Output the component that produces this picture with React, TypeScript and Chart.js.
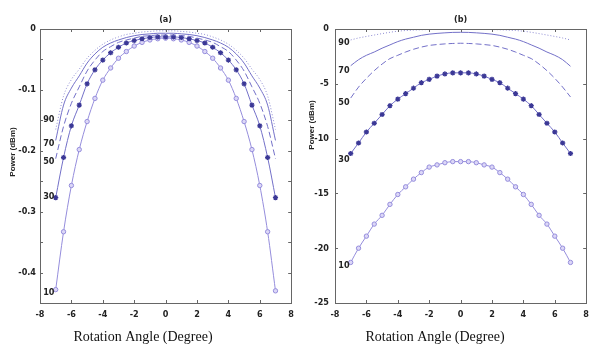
import React, { useEffect, useRef } from "react";
import { Chart, registerables } from "chart.js";

Chart.register(...registerables);

// ---------- data ----------
const angles = [-7, -6.5, -6, -5.5, -5, -4.5, -4, -3.5, -3, -2.5, -2, -1.5, -1, -0.5, 0, 0.5, 1, 1.5, 2, 2.5, 3, 3.5, 4, 4.5, 5, 5.5, 6, 6.5, 7];

const xTicks = [-8, -6, -4, -2, 0, 2, 4, 6, 8];

// panel (a)
const a90 = [-0.165, -0.11, -0.083, -0.066, -0.048, -0.035, -0.025, -0.018, -0.013, -0.009, -0.007, -0.005, -0.004, -0.003, -0.003, -0.003, -0.004, -0.005, -0.007, -0.009, -0.013, -0.018, -0.025, -0.035, -0.048, -0.066, -0.083, -0.11, -0.165];
const a70 = [-0.183, -0.125, -0.097, -0.077, -0.056, -0.041, -0.03, -0.023, -0.018, -0.014, -0.011, -0.009, -0.008, -0.007, -0.007, -0.007, -0.008, -0.009, -0.011, -0.014, -0.018, -0.023, -0.03, -0.041, -0.056, -0.077, -0.097, -0.125, -0.183];
const a50 = [-0.213, -0.16, -0.122, -0.095, -0.069, -0.051, -0.037, -0.029, -0.022, -0.018, -0.015, -0.012, -0.011, -0.01, -0.01, -0.01, -0.011, -0.012, -0.015, -0.018, -0.022, -0.029, -0.037, -0.051, -0.069, -0.095, -0.122, -0.16, -0.213];
const a30 = [-0.277, -0.211, -0.159, -0.125, -0.09, -0.067, -0.051, -0.039, -0.03, -0.023, -0.019, -0.016, -0.014, -0.013, -0.013, -0.013, -0.014, -0.016, -0.019, -0.023, -0.03, -0.039, -0.051, -0.067, -0.09, -0.125, -0.159, -0.211, -0.277];
const a10 = [-0.428, -0.333, -0.257, -0.198, -0.152, -0.114, -0.084, -0.064, -0.048, -0.037, -0.028, -0.022, -0.018, -0.016, -0.015, -0.016, -0.018, -0.022, -0.028, -0.037, -0.048, -0.064, -0.084, -0.114, -0.152, -0.198, -0.257, -0.333, -0.43];

// panel (b)
const b90 = [-1.0, -0.82, -0.68, -0.55, -0.42, -0.3, -0.2, -0.14, -0.1, -0.07, -0.05, -0.04, -0.03, -0.03, -0.03, -0.03, -0.03, -0.04, -0.05, -0.07, -0.1, -0.14, -0.2, -0.3, -0.42, -0.55, -0.68, -0.82, -1.0];
const b70 = [-3.35, -2.8, -2.4, -2.1, -1.75, -1.45, -1.15, -0.92, -0.75, -0.58, -0.47, -0.4, -0.35, -0.31, -0.3, -0.31, -0.35, -0.4, -0.47, -0.58, -0.75, -0.92, -1.15, -1.45, -1.75, -2.1, -2.4, -2.8, -3.4];
const b50 = [-6.3, -5.3, -4.5, -3.8, -3.2, -2.7, -2.4, -2.1, -1.85, -1.65, -1.5, -1.42, -1.36, -1.32, -1.3, -1.32, -1.36, -1.42, -1.5, -1.65, -1.85, -2.1, -2.4, -2.7, -3.2, -3.8, -4.5, -5.3, -6.2];
const b30 = [-11.36, -10.4, -9.4, -8.6, -7.8, -7.0, -6.4, -5.9, -5.4, -4.9, -4.6, -4.3, -4.1, -4.0, -4.0, -4.0, -4.1, -4.3, -4.6, -4.9, -5.4, -5.9, -6.4, -7.0, -7.8, -8.6, -9.4, -10.4, -11.36];
const b10 = [-21.3, -20.0, -18.9, -17.8, -17.0, -16.0, -15.1, -14.4, -13.7, -13.1, -12.6, -12.4, -12.2, -12.1, -12.1, -12.1, -12.2, -12.4, -12.6, -13.1, -13.7, -14.4, -15.1, -16.0, -17.0, -17.8, -18.9, -20.0, -21.3];

const curveNames = ["90", "70", "50", "30", "10"];
// label anchors (data coords) for curve names
const aLabelY = [-0.149, -0.189, -0.218, -0.275, -0.433];
const bLabelY = [-1.28, -3.8, -6.7, -11.9, -21.6];

// ---------- styling ----------
const LINE = "#7370c8";
const DOT = "#8d8bd2";
const STAR = "#3b3896";
const CIRC = "#958ddc";
const CIRC_FILL = "#dcd7f7";
const TICK_FONT = "'Liberation Sans Narrow', 'Arial Narrow', 'DejaVu Sans Condensed', sans-serif";

function pts(ys: number[]) {
  return angles.map((x, i) => ({ x, y: ys[i] }));
}

function makeDatasets(s90: number[], s70: number[], s50: number[], s30: number[], s10: number[]) {
  const base = { showLine: true, cubicInterpolationMode: "monotone", borderWidth: 1, fill: false };
  return [
    { ...base, label: "90", data: pts(s90), borderColor: DOT, borderDash: [1, 2], pointRadius: 0 },
    { ...base, label: "70", data: pts(s70), borderColor: LINE, pointRadius: 0 },
    { ...base, label: "50", data: pts(s50), borderColor: LINE, borderDash: [6, 3], pointRadius: 0 },
    {
      ...base, label: "30", data: pts(s30), borderColor: LINE,
      pointStyle: "star", pointRadius: 2.6, pointBorderColor: STAR, pointBackgroundColor: STAR, pointBorderWidth: 1.3,
    },
    {
      ...base, label: "10", data: pts(s10), borderColor: CIRC,
      pointStyle: "circle", pointRadius: 2.2, pointBorderColor: CIRC, pointBackgroundColor: CIRC_FILL, pointBorderWidth: 1,
    },
  ];
}

type Deco = {
  title: string;
  yTitle: { x: number; y: number };
  xTitle: { x: number; y: number };
  labelX: number;
  labelY: number[];
};

function decoPlugin(d: Deco) {
  return {
    id: "deco",
    afterDraw(chart: any) {
      const ctx = chart.ctx;
      const { left, right, top, bottom } = chart.chartArea;
      const xs = chart.scales.x;
      const ys = chart.scales.y;
      ctx.save();
      // box
      ctx.strokeStyle = "#666";
      ctx.lineWidth = 1;
      ctx.strokeRect(Math.round(left) + 0.5, Math.round(top) + 0.5, Math.round(right - left), Math.round(bottom - top));
      // inward ticks
      ctx.beginPath();
      xs.ticks.forEach((t: any) => {
        const px = Math.round(xs.getPixelForValue(t.value)) + 0.5;
        ctx.moveTo(px, bottom); ctx.lineTo(px, bottom - 3);
        ctx.moveTo(px, top); ctx.lineTo(px, top + 3);
      });
      ys.ticks.forEach((t: any) => {
        const py = Math.round(ys.getPixelForValue(t.value)) + 0.5;
        ctx.moveTo(left, py); ctx.lineTo(left + 3, py);
        ctx.moveTo(right, py); ctx.lineTo(right - 3, py);
      });
      ctx.stroke();
      // title
      ctx.fillStyle = "#222";
      ctx.font = "bold 9px " + TICK_FONT;
      ctx.textAlign = "center";
      ctx.textBaseline = "middle";
      ctx.fillText(d.title, (left + right) / 2, top - 9);
      // curve labels
      d.labelY.forEach((v, i) => {
        ctx.fillText(curveNames[i], xs.getPixelForValue(d.labelX), ys.getPixelForValue(v));
      });
      // y title
      ctx.save();
      ctx.translate(d.yTitle.x, d.yTitle.y);
      ctx.rotate(-Math.PI / 2);
      ctx.textAlign = "center";
      ctx.font = "bold 8px 'Liberation Sans', Arial, sans-serif";
      ctx.fillText("Power (dBm)", 0, 0);
      ctx.restore();
      // x title
      ctx.font = "14px 'Liberation Serif', 'Times New Roman', serif";
      ctx.textAlign = "center";
      ctx.fillStyle = "#111";
      ctx.fillText("Rotation Angle (Degree)", d.xTitle.x, d.xTitle.y);
      ctx.restore();
    },
  };
}

function makeConfig(datasets: any[], yMin: number, yStep: number, yLabelEvery: number, yWidth: number, yPad: number, deco: Deco) {
  return {
    type: "scatter",
    data: { datasets },
    plugins: [decoPlugin(deco)],
    options: {
      responsive: false,
      animation: false,
      layout: { autoPadding: false, padding: { top: 29, right: 3, left: 0, bottom: 0 } },
      plugins: { legend: { display: false }, tooltip: { enabled: false } },
      scales: {
        x: {
          type: "linear",
          min: -8,
          max: 8,
          afterBuildTicks: (s: any) => { s.ticks = xTicks.map((v) => ({ value: v })); },
          afterFit: (s: any) => { s.height = 41; },
          grid: { display: false, drawTicks: false },
          border: { display: false },
          ticks: {
            padding: 6,
            color: "#222",
            font: { family: TICK_FONT, size: 9, weight: "bold" },
            callback: (v: number) => String(v),
          },
        },
        y: {
          type: "linear",
          min: yMin,
          max: 0,
          afterFit: (s: any) => { s.width = yWidth; },
          ticks: {
            stepSize: yStep,
            padding: yPad,
            color: "#222",
            font: { family: TICK_FONT, size: 9, weight: "bold" },
            callback: (v: number) => {
              const r = Math.round(v / yStep);
              if (r % yLabelEvery !== 0) return "";
              if (Math.abs(v) < 1e-9) return "0";
              return String(Number(v.toFixed(3)));
            },
          },
          grid: { display: false, drawTicks: false },
          border: { display: false },
        },
      },
    },
  };
}

function Panel(props: { cfg: any; left: number; width: number }) {
  const ref = useRef<HTMLCanvasElement | null>(null);
  useEffect(() => {
    if (!ref.current) return;
    const c = new Chart(ref.current, props.cfg);
    return () => c.destroy();
  }, []);
  return (
    <canvas
      ref={ref}
      width={props.width}
      height={344}
      style={{ position: "absolute", left: props.left, top: 0, width: props.width, height: 344 }}
    />
  );
}

export default function App() {
  const cfgA = makeConfig(
    makeDatasets(a90, a70, a50, a30, a10),
    -0.45, 0.05, 2, 40, 4,
    { title: "(a)", yTitle: { x: 13, y: 152 }, xTitle: { x: 143, y: 337 }, labelX: -7.44, labelY: aLabelY }
  );
  const cfgB = makeConfig(
    makeDatasets(b90, b70, b50, b30, b10),
    -25, 5, 1, 37, 6,
    { title: "(b)", yTitle: { x: 14, y: 125 }, xTitle: { x: 137, y: 337 }, labelX: -7.43, labelY: bLabelY }
  );
  return (
    <div style={{ position: "absolute", left: 0, top: 0, width: 595, height: 344, background: "#fff" }}>
      <Panel cfg={cfgA} left={0} width={300} />
      <Panel cfg={cfgB} left={298} width={297} />
    </div>
  );
}
